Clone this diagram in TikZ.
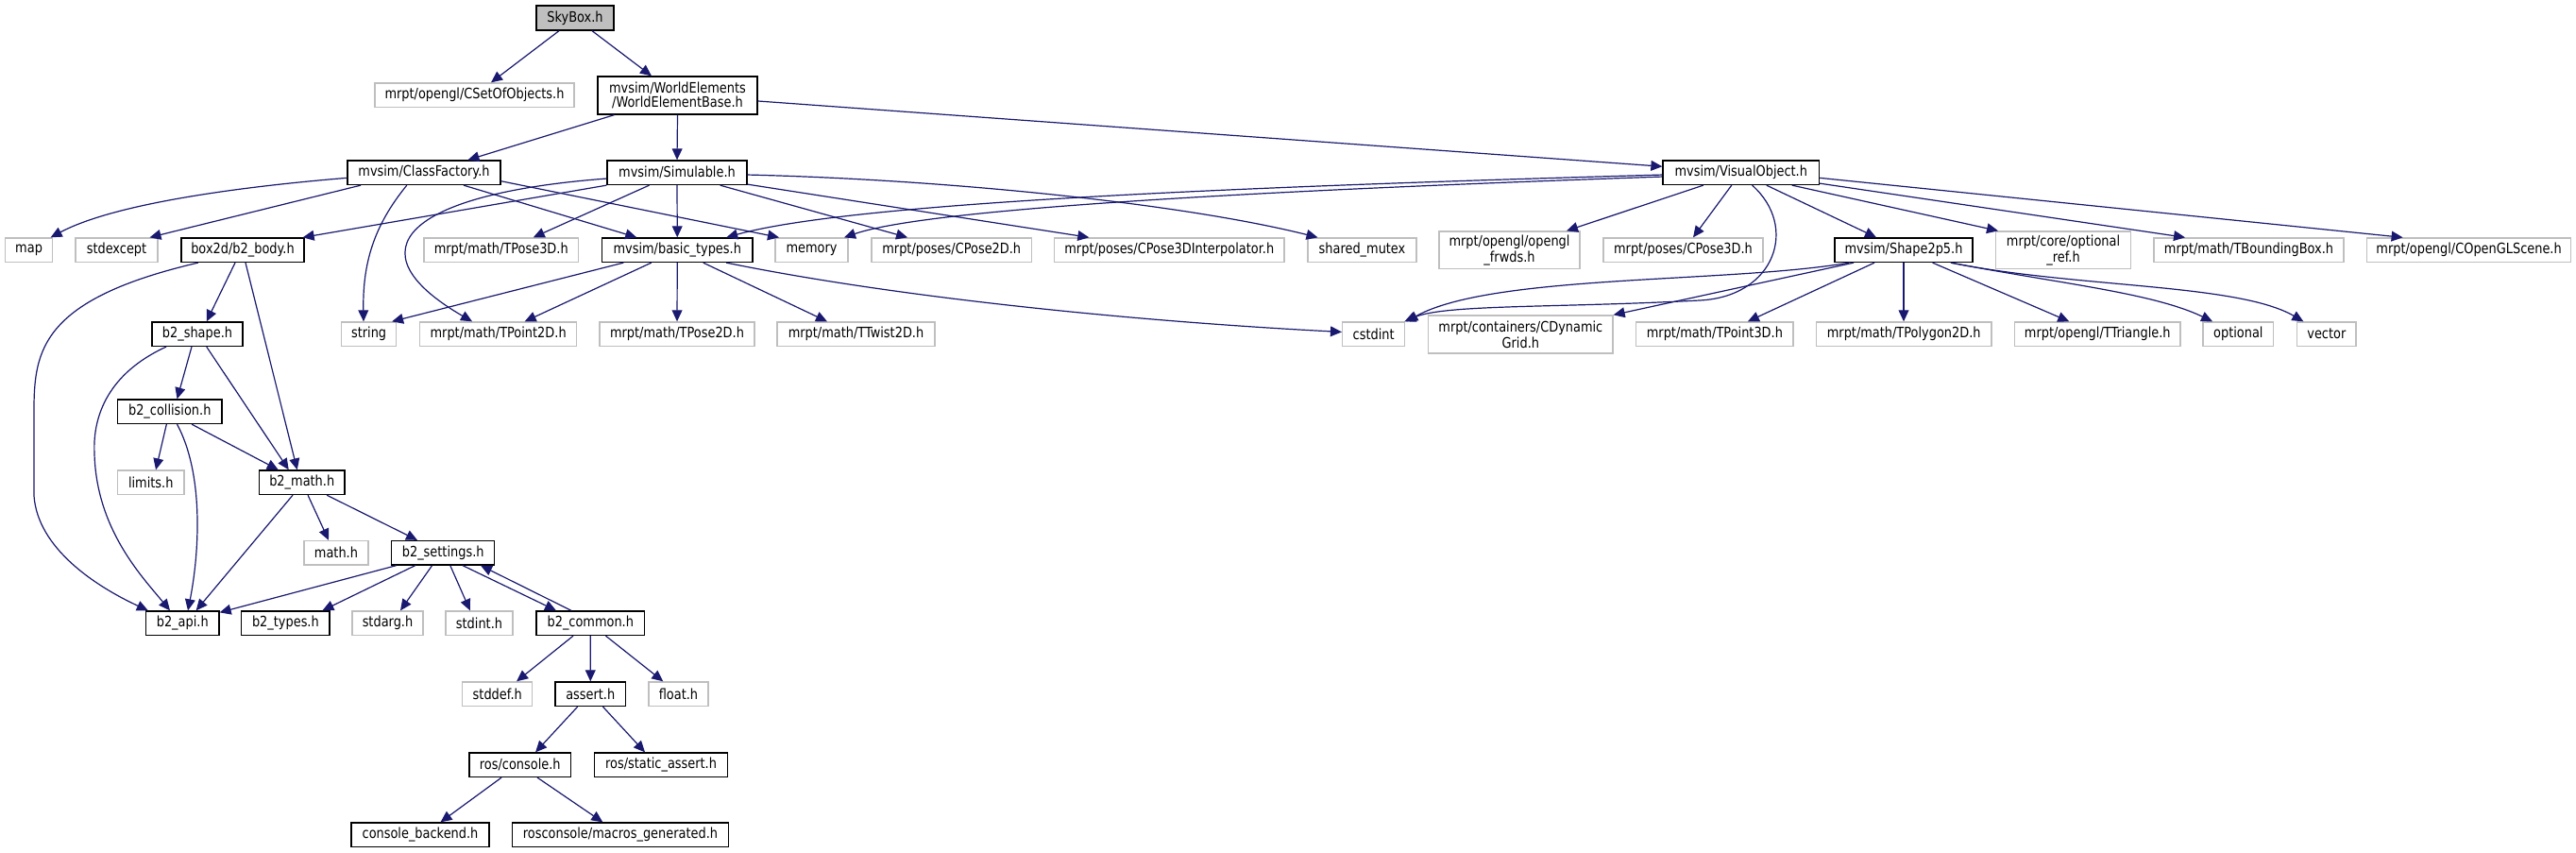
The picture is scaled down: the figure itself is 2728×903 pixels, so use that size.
\documentclass[tikz,border=0pt]{standalone}
\usepackage{fontspec}
\setmainfont{DejaVu Sans}[FakeStretch=0.85]
\usetikzlibrary{arrows.meta,calc}
\definecolor{edgec}{HTML}{191970}
\definecolor{graybd}{HTML}{BFBFBF}
\newcommand\mybox[7]{\node[#1, minimum width={(#5-#3)*0.5pt}, minimum height={(#6-#4)*0.5pt}] (#2) at ({(#3+#5)/2},{(#4+#6)/2}) {#7};}
\newcommand\ed[4]{\draw[e] ($(#1.south)+(#2,0)$) -- ($(#3.north)+(#4,0)$);}
\begin{document}
\begin{tikzpicture}[x=0.5pt,y=-0.5pt,
  basebox/.style={inner sep=0pt, align=center, line width=0.65pt, font=\fontsize{7.6pt}{7.3pt}\selectfont},
  doc/.style={basebox, draw=black, fill=white},
  ext/.style={basebox, draw=graybd, fill=white},
  root/.style={basebox, draw=black, fill=graybd},
  e/.style={draw=edgec, line width=0.6pt, -{Triangle[length=6pt,width=5.4pt]}}]
\useasboundingbox[fill=white] (0,0) rectangle (2728,903);
% row 0-2
\mybox{root}{sky}{568}{6}{650}{32}{SkyBox.h}
\mybox{ext}{cset}{397}{88}{608}{113.5}{mrpt/opengl/CSetOfObjects.h}
\mybox{doc}{web}{633}{81}{802}{121}{mvsim/WorldElements\\/WorldElementBase.h}
\mybox{doc}{cf}{368}{170}{530}{195.5}{mvsim/ClassFactory.h}
\mybox{doc}{sim}{643}{170}{791}{195.5}{mvsim/Simulable.h}
\mybox{doc}{vo}{1761}{170}{1926.5}{195.5}{mvsim/VisualObject.h}
% row 3
\mybox{ext}{map}{5.4}{252}{55.8}{277.5}{map}
\mybox{ext}{stdexcept}{80}{252}{167}{277.5}{stdexcept}
\mybox{doc}{body}{192}{252}{322}{277.5}{box2d/b2\_body.h}
\mybox{ext}{tpthree}{449}{252}{612.5}{277.5}{mrpt/math/TPose3D.h}
\mybox{doc}{bt}{637.5}{252}{797}{277.5}{mvsim/basic\_types.h}
\mybox{ext}{memory}{821}{252}{898}{277.5}{memory}
\mybox{ext}{cptwo}{923}{252}{1092.5}{277.5}{mrpt/poses/CPose2D.h}
\mybox{ext}{interp}{1116.6}{252}{1360}{277.5}{mrpt/poses/CPose3DInterpolator.h}
\mybox{ext}{smutex}{1385}{252}{1500}{277.5}{shared\_mutex}
\mybox{ext}{frwds}{1524}{245}{1673}{284.5}{mrpt/opengl/opengl\\\_frwds.h}
\mybox{ext}{cpthree}{1698}{252}{1867}{277.5}{mrpt/poses/CPose3D.h}
\mybox{doc}{shape}{1943}{252}{2089}{277.5}{mvsim/Shape2p5.h}
\mybox{ext}{optref}{2113.7}{245}{2256.3}{284.5}{mrpt/core/optional\\\_ref.h}
\mybox{ext}{bbox}{2281}{252}{2482}{277.5}{mrpt/math/TBoundingBox.h}
\mybox{ext}{scene}{2506.4}{252}{2722.7}{277.5}{mrpt/opengl/COpenGLScene.h}
% row 4
\mybox{doc}{b2shape}{161}{341}{257}{366.5}{b2\_shape.h}
\mybox{ext}{string}{361.6}{341}{419.6}{366.5}{string}
\mybox{ext}{tptwod}{444.6}{341}{610.7}{366.5}{mrpt/math/TPoint2D.h}
\mybox{ext}{tposetwod}{635}{341}{799}{366.5}{mrpt/math/TPose2D.h}
\mybox{ext}{ttwist}{823}{341}{990}{366.5}{mrpt/math/TTwist2D.h}
\mybox{ext}{cstdint}{1421.6}{341}{1487.7}{366.5}{cstdint}
\mybox{ext}{grid}{1512.7}{334}{1708}{374}{mrpt/containers/CDynamic\\Grid.h}
\mybox{ext}{tpthreed}{1732.8}{341}{1899}{366.5}{mrpt/math/TPoint3D.h}
\mybox{ext}{polygon}{1923.4}{341}{2109}{366.5}{mrpt/math/TPolygon2D.h}
\mybox{ext}{triangle}{2133.5}{341}{2309}{366.5}{mrpt/opengl/TTriangle.h}
\mybox{ext}{optional}{2333}{341}{2407.7}{366.5}{optional}
\mybox{ext}{vector}{2432.7}{341}{2495}{366.5}{vector}
% rows 5-11
\mybox{doc}{coll}{124.5}{423}{235}{448.5}{b2\_collision.h}
\mybox{ext}{limits}{124.5}{498}{195}{523.5}{limits.h}
\mybox{doc}{bmath}{274.5}{498}{365}{523.5}{b2\_math.h}
\mybox{ext}{mathh}{322}{572.5}{390}{598}{math.h}
\mybox{doc}{settings}{414.7}{572.5}{523.7}{598}{b2\_settings.h}
\mybox{doc}{api}{154.5}{647}{232}{672.5}{b2\_api.h}
\mybox{doc}{types}{255.8}{647}{349}{672.5}{b2\_types.h}
\mybox{ext}{stdarg}{373}{647}{448}{672.5}{stdarg.h}
\mybox{ext}{stdinth}{472}{647}{543}{672.5}{stdint.h}
\mybox{doc}{common}{568}{647}{682.6}{672.5}{b2\_common.h}
\mybox{ext}{stddef}{489.7}{722}{563.8}{747.5}{stddef.h}
\mybox{doc}{assert}{588}{722}{662.5}{747.5}{assert.h}
\mybox{ext}{float}{687}{722}{750}{747.5}{float.h}
\mybox{doc}{console}{497}{797}{604.5}{822.5}{ros/console.h}
\mybox{doc}{sassert}{629.5}{797}{770.6}{822.5}{ros/static\_assert.h}
\mybox{doc}{backend}{372}{871}{518}{896.5}{console\_backend.h}
\mybox{doc}{macros}{542.4}{871}{771.5}{896.5}{rosconsole/macros\_generated.h}
% straight edges
\ed{sky}{-17}{cset}{17.5}
\ed{sky}{18}{web}{-27.5}
\ed{web}{-67}{cf}{46.5}
\ed{web}{0}{sim}{0}
\draw[e] ($(web.east)+(0,6)$) -- ($(vo.west)+(0,-6.5)$);
\ed{cf}{-67}{stdexcept}{35}
\ed{cf}{42}{bt}{-43}
\draw[e] ($(cf.east)+(0,9)$) -- ($(memory.north)+(-34.5,0)$);
\draw[e] (sim.south west) -- ($(body.north east)+(-2,0)$);
\ed{sim}{-29.5}{tpthree}{34}
\ed{sim}{0}{bt}{0}
\ed{sim}{45.6}{cptwo}{-46.7}
\draw[e] ($(sim.south east)+(0,-1)$) -- ($(interp.north)+(-85,0)$);
\ed{bt}{-57}{string}{24.5}
\ed{bt}{-27.5}{tptwod}{28}
\ed{bt}{0}{tposetwod}{0}
\ed{bt}{27.5}{ttwist}{-30.5}
\ed{vo}{-40}{frwds}{60.5}
\ed{vo}{-10}{cpthree}{10.5}
\ed{vo}{27}{shape}{-29}
\ed{vo}{54}{optref}{-69}
\draw[e] ($(vo.south east)+(0,-2)$) -- ($(bbox.north)+(-67.5,0)$);
\draw[e] ($(vo.east)+(0,5.6)$) -- ($(scene.north)+(-70,0)$);
\draw[e] ($(shape.south)+(-53,0)$) -- (grid.north east);
\ed{shape}{-31}{tpthreed}{35}
\ed{shape}{0}{polygon}{-0.2}
\ed{shape}{30.6}{triangle}{-30}
\ed{body}{-8}{b2shape}{9.75}
\ed{body}{3}{bmath}{-5}
\ed{b2shape}{-6}{coll}{7.8}
\ed{b2shape}{9.75}{bmath}{-14}
\ed{coll}{-3.4}{limits}{5.3}
\ed{coll}{23.3}{bmath}{-25}
\ed{bmath}{-9.7}{api}{14.4}
\ed{bmath}{6.3}{mathh}{-8}
\ed{bmath}{26.3}{settings}{-27.2}
\draw[e] ($(settings.south)+(-49.6,0)$) -- ($(api.north east)+(0,2)$);
\ed{settings}{-29.5}{types}{39}
\ed{settings}{-11.6}{stdarg}{13.5}
\ed{settings}{7.6}{stdinth}{-9.7}
\ed{settings}{20.8}{common}{-36.3}
\draw[e] ($(common.north)+(-20.3,0)$) -- ($(settings.south)+(39.8,0)$);
\ed{common}{-18.3}{stddef}{20.3}
\ed{common}{0}{assert}{0}
\ed{common}{16.2}{float}{-16.2}
\ed{assert}{-13.6}{console}{16.3}
\ed{assert}{13.2}{sassert}{-17}
\ed{console}{-19.7}{backend}{21.5}
\ed{console}{18.3}{macros}{-18.6}
% curved edges
\draw[e] ($(cf.west)+(0,5.6)$) .. controls (250,198) and (120,216) .. ($(map.north)+(23,0)$);
\draw[e] ($(cf.south)+(-18.2,0)$) .. controls (395,240) and (384,280) .. ($(string.north)+(-5.6,0)$);
\draw[e] ($(sim.west)+(0,6.3)$) .. controls (430,205) and (370,265) .. ($(tptwod.north)+(-27.6,0)$);
\draw[e] ($(sim.east)+(0,2.3)$) .. controls (1000,190) and (1250,215) .. ($(smutex.north)+(-47,0)$);
\draw[e] ($(vo.west)+(0,2.3)$) .. controls (1300,198) and (900,215) .. ($(bt.north)+(52,0)$);
\draw[e] ($(vo.west)+(0,4.3)$) .. controls (1300,203) and (980,222) .. ($(memory.north)+(34.5,0)$);
\draw[e] ($(bt.south)+(52,0)$) .. controls (950,315) and (1200,340) .. ($(cstdint.west)+(0,-2.3)$);
\draw[e] ($(vo.south)+(11.8,0)$) .. controls (1905,240) and (1880,314) .. (1800,318) .. controls (1650,326) and (1530,322) .. ($(cstdint.north east)+(-1,0)$);
\draw[e] ($(shape.south)+(-58,0)$) .. controls (1830,300) and (1580,290) .. ($(cstdint.north east)+(1,0)$);
\draw[e] ($(shape.south)+(50,0)$) .. controls (2180,300) and (2280,310) .. ($(optional.north)+(-27.3,0)$);
\draw[e] ($(shape.south)+(50,0)$) .. controls (2200,305) and (2370,300) .. ($(vector.north)+(-24.5,0)$);
\draw[e] ($(body.south)+(-47.2,0)$) .. controls (30,320) and (36,380) .. (36,450) -- (36,525) .. controls (40,580) and (100,620) .. ($(api.north west)+(3,0)$);
\draw[e] ($(b2shape.south)+(-33,0)$) .. controls (115,395) and (98,440) .. (100,480) .. controls (102,560) and (150,610) .. ($(api.north)+(-13.2,0)$);
\draw[e] ($(coll.south)+(7.8,0)$) .. controls (215,500) and (212,580) .. ($(api.north)+(5.8,0)$);
\end{tikzpicture}
\end{document}
